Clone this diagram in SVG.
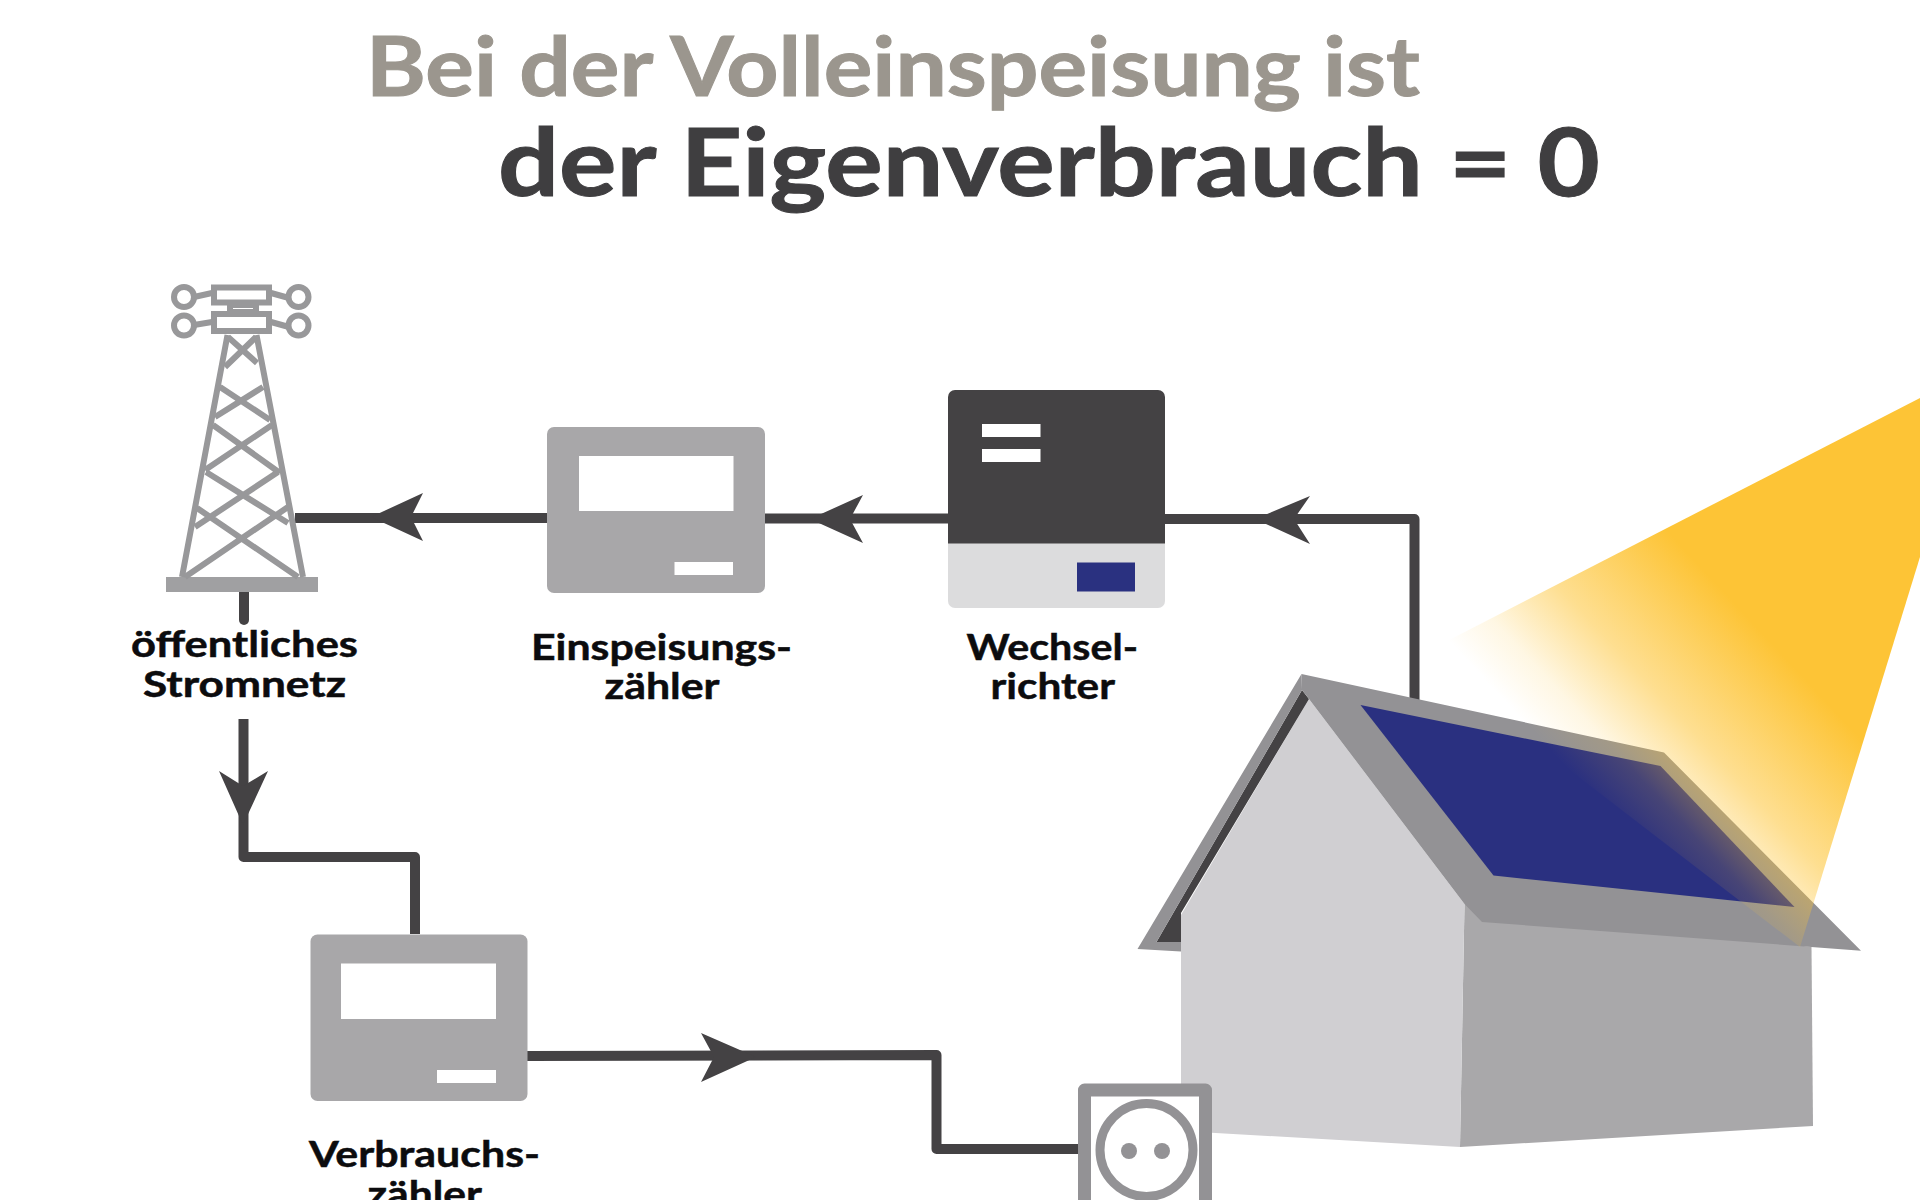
<svg xmlns="http://www.w3.org/2000/svg" width="1920" height="1200" viewBox="0 0 1920 1200">
<style>
.t{font-family:"Lato","Liberation Sans",sans-serif;font-weight:700}
.lab{font-size:37px;fill:#0c0c0e;stroke:#0c0c0e;stroke-width:.5px}
.wire{fill:none;stroke:#444244;stroke-width:10;stroke-linejoin:round}
.head{fill:#444244}
.meter{fill:#a8a7a9}
.w{fill:#fff}
.tw{fill:none;stroke:#98989a;stroke-width:6}
</style>
<defs>
<linearGradient id="beam" gradientUnits="userSpaceOnUse" x1="1604" y1="808" x2="1776" y2="648">
<stop offset="0" stop-color="#fdc436" stop-opacity="0"/>
<stop offset="0.2" stop-color="#fdc436" stop-opacity=".14"/>
<stop offset="0.5" stop-color="#fdc436" stop-opacity=".55"/>
<stop offset="1" stop-color="#fdc436" stop-opacity="1"/>
</linearGradient>
</defs>
<rect width="1920" height="1200" fill="#fff"/>
<g id="title">
<text class="t" x="366" y="96" font-size="82" fill="#9b968e" stroke="#9b968e" stroke-width="1" textLength="1054" lengthAdjust="spacingAndGlyphs">Bei der Volleinspeisung ist</text>
<text class="t" x="498" y="196" font-size="94" fill="#3f3e40" stroke="#3f3e40" stroke-width="1" textLength="1102" lengthAdjust="spacingAndGlyphs">der Eigenverbrauch = 0</text>
</g>
<g id="connectors">
<path class="wire" d="M295 518H547"/>
<path class="head" d="M371 517L423 493L411 517L423 541Z"/>
<path class="wire" d="M765 518.500H948"/>
<path class="head" d="M810 519L863 495L850 519L863 543Z"/>
<path class="wire" d="M1165 519H1414.500V700"/>
<path class="head" d="M1255 519L1310 496L1294 519L1310 544Z"/>
<path class="wire" d="M244 592V620" stroke-linecap="round"/>
<path class="wire" d="M243.500 719V857H415V934" stroke-linecap="butt"/>
<path class="head" d="M243 825L219 771L243 786L268 771Z"/>
<path class="wire" d="M527 1056L936.500 1055V1149H1078"/>
<path class="head" d="M756 1057L701 1033L714 1057L701 1082Z"/>
</g>
<g id="tower">
<rect x="166" y="577" width="152" height="15" fill="#a0a0a2"/>
<path class="tw" d="M227.500 335L182 577M256.500 335L303 577"/>
<path class="tw" d="M228 337L257 363M256 337L225 367M220 387L270 420M263 387L215 417M213 425L280 473M272 425L205 470M206 472L288 523M278 472L195 527M197 508L298 577M288 507L185 577"/>
<rect class="tw" x="214" y="287.500" width="55" height="15"/>
<rect class="tw" x="214" y="314" width="55" height="17"/>
<rect class="tw" x="230" y="305" width="26" height="7"/>
<circle class="tw" cx="184" cy="297" r="10"/>
<circle class="tw" cx="298.500" cy="297" r="10"/>
<circle class="tw" cx="184" cy="325.500" r="10"/>
<circle class="tw" cx="298.500" cy="325.500" r="10"/>
<path class="tw" d="M194 297L212 293M271 293L289 298M194 325L212 322M271 322L289 327"/>
<text class="t lab" x="131" y="657" textLength="227" lengthAdjust="spacingAndGlyphs">öffentliches</text>
<text class="t lab" x="143" y="697" textLength="203" lengthAdjust="spacingAndGlyphs">Stromnetz</text>
</g>
<g id="einspeisungszaehler">
<rect class="meter" x="547" y="427" width="218" height="166" rx="7"/>
<rect class="w" x="579" y="456" width="154.500" height="55"/>
<rect class="w" x="674.500" y="562" width="58.500" height="13"/>
<text class="t lab" x="531" y="660" textLength="261" lengthAdjust="spacingAndGlyphs">Einspeisungs-</text>
<text class="t lab" x="604.500" y="699" textLength="115" lengthAdjust="spacingAndGlyphs">zähler</text>
</g>
<g id="wechselrichter">
<path fill="#dcdcdd" d="M948 540H1165V601a7 7 0 0 1-7 7H955a7 7 0 0 1-7-7Z"/>
<path fill="#444244" d="M955 390H1158a7 7 0 0 1 7 7V543.500H948V397a7 7 0 0 1 7-7Z"/>
<rect class="w" x="982" y="424" width="58.500" height="13"/>
<rect class="w" x="982" y="449" width="58.500" height="13"/>
<rect x="1077" y="562.500" width="58" height="29" fill="#2a3180"/>
<text class="t lab" x="966.500" y="660" textLength="171.500" lengthAdjust="spacingAndGlyphs">Wechsel-</text>
<text class="t lab" x="990.500" y="699" textLength="124.500" lengthAdjust="spacingAndGlyphs">richter</text>
</g>
<g id="verbrauchszaehler">
<rect class="meter" x="310.500" y="934.500" width="217" height="166.500" rx="7"/>
<rect class="w" x="341" y="963.500" width="155" height="55.500"/>
<rect class="w" x="437" y="1070" width="59" height="13"/>
<text class="t lab" x="309" y="1167" textLength="231" lengthAdjust="spacingAndGlyphs">Verbrauchs-</text>
<text class="t lab" x="367.500" y="1206.500" textLength="114.500" lengthAdjust="spacingAndGlyphs">zähler</text>
</g>
<g id="house">
<path fill="#a9a8aa" d="M1464.500 904L1811.500 947L1813 1126L1460 1147Z"/>
<path fill="#d0cfd2" d="M1309 699L1464.500 904L1460 1147L1181 1131V915Z"/>
<path fill="#444244" d="M1302 690L1156.500 942H1181V913L1309 699Z"/>
<path fill="#939295" d="M1301.500 674L1137.500 949L1181 951.500V942H1156.500L1302 690Z"/>
<path fill="#939295" d="M1301.500 674L1664 752.500L1861 950.700L1482 922L1464.500 904L1309 699L1302 690Z"/>
<path fill="#2a3080" d="M1360.500 705L1660.500 766L1794.500 907L1493.500 875.500Z"/>
</g>
<g id="sonne">
<path fill="url(#beam)" d="M1920 398V557L1800 947L1420 655Z"/>
</g>
<g id="steckdose">
<path fill="#fff" stroke="#939295" stroke-width="13" stroke-linejoin="round" d="M1084.500 1210V1090H1205.500V1210"/>
<circle cx="1146.500" cy="1150" r="46.500" fill="#fff" stroke="#939295" stroke-width="9"/>
<circle cx="1129" cy="1151" r="8" fill="#939295"/>
<circle cx="1162" cy="1151" r="8" fill="#939295"/>
</g>
</svg>
